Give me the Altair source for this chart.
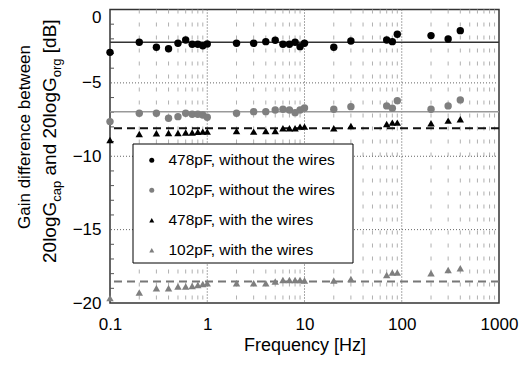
import altair as alt
import pandas as pd

# ---------------- data ----------------
freqs = [0.1, 0.2, 0.3, 0.4, 0.5, 0.6, 0.7, 0.8, 0.9, 1, 2, 3, 4, 5, 6, 7, 8, 9,
         10, 20, 30, 70, 80, 90, 200, 300, 400]
c478_without = [-2.92, -2.23, -2.57, -2.67, -2.30, -2.08, -2.37, -2.37, -2.47, -2.35,
                -2.30, -2.30, -2.19, -2.10, -2.37, -2.37, -2.23, -2.53,
                -2.30, -2.57, -2.15, -2.08, -2.19, -1.69, -1.78, -2.01, -1.44]
c102_without = [-7.64, -7.07, -7.07, -7.41, -7.30, -7.07, -7.14, -7.14, -7.19, -7.34,
                -7.07, -6.96, -6.96, -6.85, -6.80, -6.85, -7.03, -6.85,
                -6.71, -6.80, -6.62, -6.57, -6.73, -6.21, -6.80, -6.57, -6.16]
c478_with = [-8.89, -8.48, -8.43, -8.41, -8.41, -8.38, -8.38, -8.34, -8.32, -8.32,
             -8.28, -8.32, -8.28, -8.28, -8.09, -8.09, -8.09, -7.98,
             -7.98, -8.09, -7.94, -7.80, -7.71, -7.71, -7.75, -7.57, -7.48]
c102_with = [-19.67, -19.29, -18.99, -18.99, -18.88, -18.88, -18.84, -18.77, -18.70, -18.65,
             -18.65, -18.65, -18.65, -18.54, -18.43, -18.43, -18.43, -18.43,
             -18.47, -18.47, -18.36, -18.09, -17.93, -17.93, -17.97, -17.75, -17.63]

series_names = ["478pF, without the wires", "102pF, without the wires",
                "478pF, with the wires", "102pF, with the wires"]
series_colors = ["#000000", "#7f7f7f", "#000000", "#7f7f7f"]
series_shapes = ["circle", "circle", "triangle-up", "triangle-up"]

solid_levels = [-2.23, -6.96]
solid_colors = ["#333333", "#999999"]
dashed_levels = [-8.09, -18.54]
dashed_colors = ["#111111", "#777777"]

x_labels = [0.1, 1, 10, 100, 1000]
x_major_grid = [1, 10, 100]
x_minor_grid = [0.2, 0.3, 0.4, 0.5, 0.6, 0.7, 0.8, 0.9,
                2, 3, 4, 5, 6, 7, 8, 9,
                20, 30, 40, 50, 60, 70, 80, 90,
                200, 300, 400, 500, 600, 700, 800, 900]
y_labels = [-20, -15, -10, -5, 0]
y_grid = [-15, -10, -5]
y_minor_ticks = [-19, -18, -17, -16, -14, -13, -12, -11, -9, -8, -7, -6,
                 -4, -3, -2, -1]

# ---------------- layout ----------------
W, H = 389, 293.5
FONT = "Liberation Sans"

xs = alt.Scale(type="log", domain=[0.1, 1000], nice=False)
ys = alt.Scale(domain=[-20, 0], nice=False, zero=False)

x_axis = alt.Axis(values=x_labels, format="~g", title="Frequency [Hz]",
                  grid=False, ticks=False, domain=False,
                  labelFontSize=17, labelPadding=13, labelColor="black",
                  labelFont=FONT, titleFont=FONT,
                  titleFontSize=18, titleFontWeight="normal",
                  titleColor="black", titlePadding=4, labelFlush=False)
y_axis = alt.Axis(values=y_labels, title=None, grid=False, ticks=False,
                  domain=False, labelFontSize=17, labelPadding=9,
                  labelColor="black", labelFont=FONT,
                  labelOffset={"condition": {"test": "datum.value === 0", "value": 8},
                               "value": 0})

df = pd.DataFrame({
    "freq": freqs * 4,
    "gain": c478_without + c102_without + c478_with + c102_with,
    "series": [n for n in series_names for _ in freqs],
})

minor = alt.Chart(pd.DataFrame({"freq": x_minor_grid})).mark_rule(
    color="#b0b0b0", strokeWidth=1, strokeDash=[4, 9]
).encode(x=alt.X("freq:Q", scale=xs, axis=x_axis))

major = alt.Chart(pd.DataFrame({"freq": x_major_grid})).mark_rule(
    color="#555555", strokeWidth=1, strokeDash=[1, 2]
).encode(x=alt.X("freq:Q", scale=xs, axis=x_axis))

hgrid = alt.Chart(pd.DataFrame({"gain": y_grid})).mark_rule(
    color="#666666", strokeWidth=1, strokeDash=[1, 2]
).encode(y=alt.Y("gain:Q", scale=ys, axis=y_axis))

yticks = alt.Chart(pd.DataFrame({"gain": y_minor_ticks})).mark_rule(
    color="#555555", strokeWidth=1
).encode(y=alt.Y("gain:Q", scale=ys, axis=y_axis), x=alt.value(0), x2=alt.value(4))

solid = alt.Chart(pd.DataFrame({"gain": solid_levels, "c": solid_colors})).mark_rule(
    strokeWidth=1.5
).encode(y=alt.Y("gain:Q", scale=ys, axis=y_axis), color=alt.Color("c:N", scale=None))

dashed = alt.Chart(pd.DataFrame({"gain": dashed_levels, "c": dashed_colors})).mark_rule(
    strokeWidth=2, strokeDash=[8, 5]
).encode(y=alt.Y("gain:Q", scale=ys, axis=y_axis), color=alt.Color("c:N", scale=None))

box = alt.Chart(pd.DataFrame({"a": [0]})).mark_rect(
    fill="white", stroke="black", strokeWidth=1
).encode(x=alt.value(23), x2=alt.value(243), y=alt.value(134.5), y2=alt.value(253.5))

leg = alt.Legend(orient="none", legendX=34, legendY=143, title=None,
                 labelFontSize=15.5, labelFont=FONT, labelColor="black",
                 labelLimit=400,
                 symbolSize=25, rowPadding=13, padding=0, labelOffset=9,
                 symbolStrokeWidth=0)

points = alt.Chart(df).mark_point(filled=True, size=55, opacity=1).encode(
    x=alt.X("freq:Q", scale=xs, axis=x_axis),
    y=alt.Y("gain:Q", scale=ys, axis=y_axis),
    color=alt.Color("series:N", scale=alt.Scale(domain=series_names, range=series_colors), legend=leg),
    shape=alt.Shape("series:N", scale=alt.Scale(domain=series_names, range=series_shapes), legend=leg),
)

# ---------- rotated y-axis title with subscripts ----------
arial = {"2": 556, "0": 556, "l": 222, "o": 556, "g": 556, "G": 778, " ": 278,
         "a": 556, "n": 556, "d": 556, "c": 500, "p": 556, "r": 333, "[": 278,
         "]": 278, "B": 667}

def tw(s, size):
    return sum(arial[ch] for ch in s) * size / 1000.0

one = pd.DataFrame({"a": [0]})
texts = []
texts.append(alt.Chart(one).mark_text(
    angle=270, align="center", baseline="alphabetic", fontSize=17, font=FONT, color="black"
).encode(x=alt.value(-80), y=alt.value(127.5), text=alt.value("Gain difference between")))

# (text, font size, subscript?, space before)
segments = [("20logG", 19, False, 0), ("cap", 13, True, 0), ("and 20logG", 19, False, 1),
            ("org", 13, True, 0), ("[dB]", 19, False, 1)]
ypos = 253.5
for s, size, sub, sp in segments:
    ypos -= sp * tw(" ", 19)
    texts.append(alt.Chart(one).mark_text(
        angle=270, align="left", baseline="alphabetic", fontSize=size, font=FONT, color="black"
    ).encode(x=alt.value(-49 if sub else -54), y=alt.value(ypos), text=alt.value(s)))
    ypos -= tw(s, size)

chart = alt.layer(minor, major, hgrid, yticks, solid, dashed, box, points, *texts).properties(
    width=W, height=H,
    autosize=alt.AutoSizeParams(type="none"),
    padding={"left": 102, "top": 1.5, "right": 25, "bottom": 54},
).configure_view(stroke="#333333", strokeWidth=1.5)

chart.save("out.html", embed_options={"renderer": "svg", "actions": False})
